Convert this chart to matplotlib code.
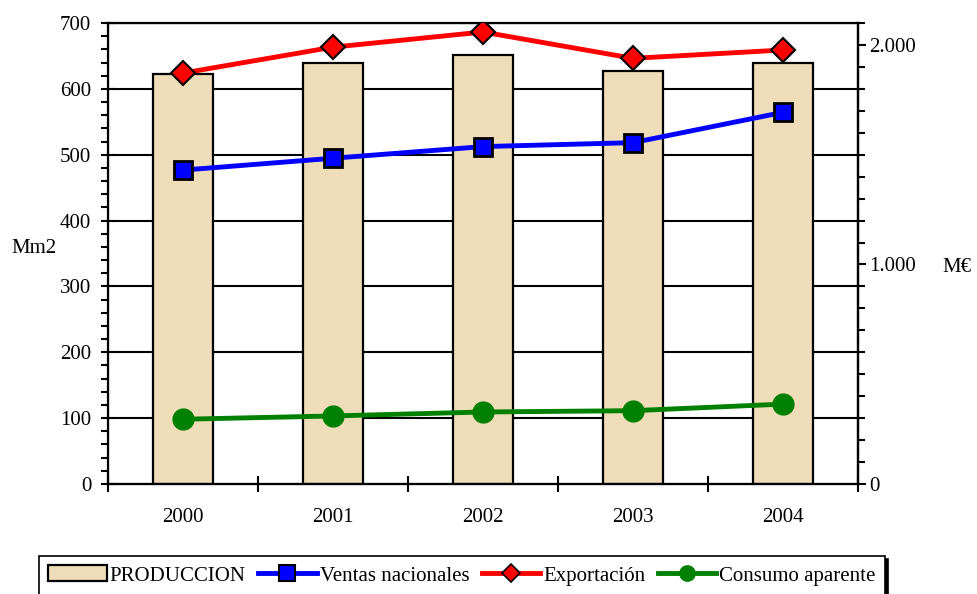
import numpy as np
import matplotlib.pyplot as plt
from matplotlib.lines import Line2D
from matplotlib.patches import Patch
from matplotlib.ticker import MultipleLocator, FixedLocator

plt.rcParams['font.family'] = ['Liberation Serif', 'DejaVu Serif']

# data
years = ['2000', '2001', '2002', '2003', '2004']
produccion = [622, 639, 651, 627, 640]          # Mm2, left axis
ventas = [1430, 1484, 1537, 1555, 1693]         # right axis
exportacion = [1872, 1990, 2059, 1939, 1977]    # right axis
consumo = [295, 310, 328, 334, 364]             # right axis

x = np.arange(len(years))

fig = plt.figure(figsize=(9.78, 5.94), dpi=100)
ax = fig.add_axes([108/978, 1-484/594, 750/978, 461/594])
ax2 = ax.twinx()

fs = 15

#bars
ax.bar(x, produccion, width=0.4, color='#EFDDB9', edgecolor='black', linewidth=1.6, zorder=2)
ax.set_xlim(-0.5, len(years)-0.5)
ax.set_ylim(0, 700)
ax.yaxis.set_major_locator(MultipleLocator(100))
ax.yaxis.set_minor_locator(MultipleLocator(20))
ax.set_axisbelow(True)
ax.grid(axis='y', color='black', linewidth=1.5, zorder=0)
ax.tick_params(axis='y', which='major', direction='inout', length=10, width=1.5, labelsize=fs, pad=7)
ax.tick_params(axis='y', which='minor', direction='out', length=5, width=1.5)
ax.set_xticks(x)
ax.set_xticklabels(years, fontsize=fs)
ax.xaxis.set_minor_locator(FixedLocator(np.arange(-0.5, len(years), 1)))
ax.tick_params(axis='x', which='major', length=0, pad=17)
ax.tick_params(axis='x', which='minor', direction='inout', length=12, width=1.5)
for s in ['top', 'left', 'right', 'bottom']:
    ax.spines[s].set_linewidth(1.6)
ax.set_ylabel('Mm2', rotation=0, fontsize=fs)
ax.yaxis.set_label_coords(-0.099, 0.49)

#lines
ax2.plot(x, ventas, color='#0000FF', lw=3.5, marker='s', ms=13.5, mfc='#0000FF', mec='black', mew=2, zorder=3)
ax2.plot(x, exportacion, color='#FF0000', lw=3.5, marker='D', ms=12, mfc='#FF0000', mec='black', mew=1.5, zorder=3)
ax2.plot(x, consumo, color='#008000', lw=3.5, marker='o', ms=15, mfc='#008000', mec='#008000', zorder=3)
ax2.set_ylim(0, 2100)
ax2.set_yticks([0, 1000, 2000])
ax2.set_yticklabels(['0', '1.000', '2.000'], fontsize=fs)
ax2.yaxis.set_minor_locator(MultipleLocator(100))
ax2.tick_params(axis='y', which='major', direction='out', length=6, width=1.5, pad=2)
ax2.tick_params(axis='y', which='minor', direction='out', length=5, width=1.5)
ax2.spines['right'].set_linewidth(1.6)
ax2.set_ylabel('M€', rotation=0, fontsize=fs)
ax2.yaxis.set_label_coords(1.132, 0.49)

handles = [
    Patch(facecolor='#EFDDB9', edgecolor='black', linewidth=1.6),
    Line2D([], [], color='#0000FF', lw=3.5, marker='s', ms=11, mfc='#0000FF', mec='black', mew=1.5),
    Line2D([], [], color='#FF0000', lw=3.5, marker='D', ms=9, mfc='#FF0000', mec='black', mew=1.2),
    Line2D([], [], color='#008000', lw=3.5, marker='o', ms=11, mfc='#008000', mec='#008000'),
]
labels = ['PRODUCCION', 'Ventas nacionales', 'Exportación', 'Consumo aparente']
leg = fig.legend(handles, labels, loc='upper center', bbox_to_anchor=(462/978, 1-556/594),
                 ncol=4, fontsize=fs, frameon=True, fancybox=False, edgecolor='black',
                 handlelength=2.8, handleheight=0.8, handletextpad=0.15, columnspacing=0.6,
                 borderpad=0.45, borderaxespad=0,
                 shadow={'color': 'black', 'alpha': 1})
leg.get_frame().set_linewidth(1.2)

plt.savefig('out.png', dpi=100)
